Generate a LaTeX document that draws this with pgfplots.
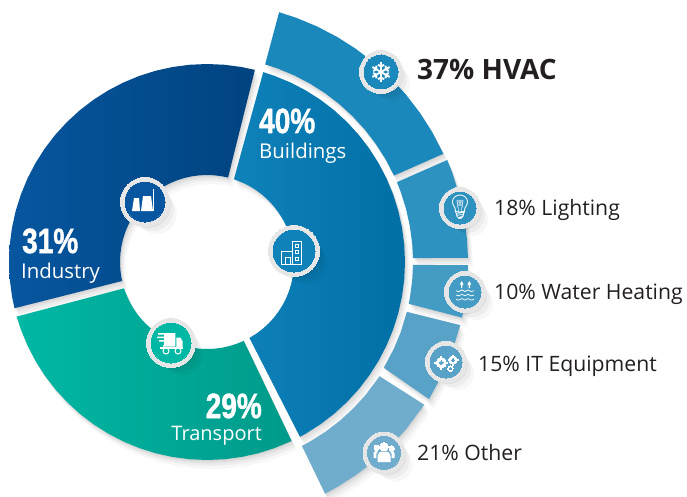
\documentclass[border=0pt]{standalone}
\usepackage{fontspec}
\usepackage{pgfplots}
\usepackage{pgfplotstable}
\pgfplotsset{compat=1.18}
\setmainfont{Open Sans}
\newfontfamily\numfont[BoldFeatures={FakeBold=1.5}]{Liberation Sans}
\newfontfamily\iconfont[FakeBold=0.6]{DejaVu Sans}
\newfontfamily\emojifont{Noto Emoji}
\definecolor{txt}{HTML}{231F20}
\definecolor{ringg}{HTML}{E6E6E6}
\definecolor{indL}{HTML}{07569F}
\definecolor{indR}{HTML}{00437F}
\definecolor{bldL}{HTML}{0F82B9}
\definecolor{bldR}{HTML}{006FA6}
\definecolor{traL}{HTML}{00B8A4}
\definecolor{traR}{HTML}{009A8A}
\definecolor{hvac}{HTML}{1B88BB}
\definecolor{ligh}{HTML}{2E92C0}
\definecolor{watr}{HTML}{449BC4}
\definecolor{itq}{HTML}{58A2C8}
\definecolor{oth}{HTML}{70ADCC}
\pgfplotstableread[row sep=\\]{a r\\76 198\\80 198\\85 198\\90 198\\95 198\\100 198\\105 198\\110 198\\115 198\\120 198\\125 198\\130 198\\135 198\\140 198\\145 198\\150 198\\155 198\\160 198\\165 198\\170 198\\175 198\\180 198\\185 198\\190 198\\193.5 198\\192.6 87\\190 87\\185 87\\180 87\\175 87\\170 87\\165 87\\160 87\\155 87\\150 87\\145 87\\140 87\\135 87\\130 87\\125 87\\120 87\\115 87\\110 87\\105 87\\100 87\\95 87\\90 87\\85 87\\80 87\\76 87\\}\tInd
\pgfplotstableread[row sep=\\]{a r\\73.5 198\\70 198\\65 198\\60 198\\55 198\\50 198\\45 198\\40 198\\35 198\\30 198\\25 198\\20 198\\15 198\\10 198\\5 198\\0 198\\-5 198\\-10 198\\-15 198\\-20 198\\-25 198\\-30 198\\-35 198\\-40 198\\-45 198\\-50 198\\-55 198\\-60 198\\-62 198\\-60.8 87\\-55 87\\-50 87\\-45 87\\-40 87\\-35 87\\-30 87\\-25 87\\-20 87\\-15 87\\-10 87\\-5 87\\0 87\\5 87\\10 87\\15 87\\20 87\\25 87\\30 87\\35 87\\40 87\\45 87\\50 87\\55 87\\60 87\\65 87\\72 87\\}\tBld
\pgfplotstableread[row sep=\\]{a r\\196 198\\200 198\\205 198\\210 198\\215 198\\220 198\\225 198\\230 198\\235 198\\240 198\\245 198\\250 198\\255 198\\260 198\\265 198\\270 198\\275 198\\280 198\\285 198\\290 198\\295.3 198\\295 87\\290 87\\285 87\\280 87\\275 87\\270 87\\265 87\\260 87\\255 87\\250 87\\245 87\\240 87\\235 87\\230 87\\225 87\\220 87\\215 87\\210 87\\205 87\\200 87\\197.6 87\\}\tTra
\pgfplotstableread[row sep=\\]{a r\\73.9 260\\70 260\\65 260\\60 260\\55 260\\50 260\\45 260\\40 260\\35 260\\30 260\\24.6 260\\24.8 206\\30 206\\35 206\\40 206\\45 206\\50 206\\55 206\\60 206\\65 206\\70 206\\73.6 206\\}\tHva
\pgfplotstableread[row sep=\\]{a r\\23 261\\20 261\\15 261\\10 261\\5 261\\0.9 261\\1.1 206\\5 206\\10 206\\15 206\\20 206\\22.8 206\\}\tLig
\pgfplotstableread[row sep=\\]{a r\\-0.7 261\\-5 261\\-10 261\\-12.3 261\\-11.7 206\\-10 206\\-5 206\\-0.8 206\\}\tWat
\pgfplotstableread[row sep=\\]{a r\\-14 261\\-20 261\\-25 261\\-31.7 261\\-30.9 206\\-25 206\\-20 206\\-14 206\\}\tITq
\pgfplotstableread[row sep=\\]{a r\\-33.3 260\\-40 260\\-45 260\\-50 260\\-55 260\\-60 260\\-63 260\\-62.7 207\\-60 207\\-55 207\\-50 207\\-45 207\\-40 207\\-33.5 207\\}\tOth
\newcommand{\wedgeplot}[2]{\addplot[draw=none,#1] table[x expr={207+\thisrow{r}*cos(\thisrow{a})},y expr={262-\thisrow{r}*sin(\thisrow{a})}]{#2};}
\newcommand{\shad}[1]{%
  \wedgeplot{fill=black,fill opacity=.05,xshift=1pt,yshift=-1.5pt}{#1}
  \wedgeplot{fill=black,fill opacity=.05,xshift=2pt,yshift=-3.5pt}{#1}
  \wedgeplot{fill=black,fill opacity=.04,xshift=3.5pt,yshift=-6pt}{#1}
  \wedgeplot{fill=black,fill opacity=.03,xshift=5pt,yshift=-9pt}{#1}}
\newcommand{\dotat}[4]{\addplot[only marks,mark=*,mark size=#3,mark options={fill=#4,draw=#4,line width=0pt}] coordinates {(#1,#2)};}
\newcommand{\shdot}[5]{\addplot[only marks,mark=*,mark size=#3,mark options={fill=black,draw=black,line width=0pt,draw opacity=0,fill opacity=#5},xshift=#4pt,yshift=-#4pt] coordinates {(#1,#2)};}
\newcommand{\badge}[4]{%
  \shdot{#1}{#2}{#3+3}{3}{.05}
  \shdot{#1}{#2}{#3+2}{7}{.04}
  \shdot{#1}{#2}{#3}{12}{.03}
  \dotat{#1}{#2}{#3+4.5}{ringg}
  \dotat{#1}{#2}{#3}{#4}}
\newcommand{\gear}[3]{%
  \addplot[only marks,mark=+,mark size=#3,mark options={draw=white,line width=#3*0.32pt}] coordinates {(#1,#2)};
  \addplot[only marks,mark=x,mark size=#3*0.71,mark options={draw=white,line width=#3*0.32pt}] coordinates {(#1,#2)};
  \dotat{#1}{#2}{#3*0.74}{white}
  \dotat{#1}{#2}{#3*0.28}{itq}}
\newcommand{\wpoly}[1]{\addplot[fill=white,draw=none] coordinates {#1};}
\newcommand{\wline}[1]{\addplot[draw=white,line width=.9pt,no marks] coordinates {#1};}
\newcommand{\wave}[1]{\addplot[draw=white,line width=.7pt,no marks,smooth] coordinates {#1};}
\newcommand{\fs}[1]{\fontsize{#1}{#1}\selectfont}
\newcommand{\bignum}[1]{\scalebox{.8}[1]{\numfont\bfseries\fs{35}#1}}
\begin{document}
\begin{tikzpicture}
\begin{axis}[scale only axis,width=687pt,height=497pt,xmin=0,xmax=687,ymin=0,ymax=497,y dir=reverse,hide axis,clip=true,clip marker paths=true]
\shad{\tInd}\shad{\tBld}\shad{\tTra}\shad{\tHva}\shad{\tLig}\shad{\tWat}\shad{\tITq}\shad{\tOth}
\wedgeplot{left color=indL,right color=indR}{\tInd}
\wedgeplot{left color=bldL,right color=bldR}{\tBld}
\wedgeplot{left color=traL,right color=traR}{\tTra}
\wedgeplot{fill=hvac}{\tHva}
\wedgeplot{fill=ligh}{\tLig}
\wedgeplot{fill=watr}{\tWat}
\wedgeplot{fill=itq}{\tITq}
\wedgeplot{fill=oth}{\tOth}
\badge{381}{72}{17}{hvac}
\badge{460}{208}{16}{ligh}
\badge{465}{292}{16}{watr}
\badge{446}{362}{16}{itq}
\badge{384}{453}{16.5}{oth}
\badge{145}{202}{20}{indL}
\badge{294}{251}{21}{bldL}
\badge{171}{343}{20}{traL}
% factory
\wpoly{(132,211)(134,198)(139,198)(140,211)}
\wpoly{(141,211)(143,196)(151,196)(153,211)}
\wpoly{(152.5,211)(152.5,189)(154,189)(154,211)}
% buildings
\wline{(292.3,264.3)(292.3,241.7)(301,241.7)(301,264.3)(281.7,264.3)(281.7,251.7)(292.3,251.7)}
\wline{(285.6,264.3)(285.6,257.5)(290,257.5)(290,264.3)}
\addplot[draw=white,line width=.7pt,no marks] coordinates {(295,244)(298.3,244)(298.3,247.3)(295,247.3)(295,244)};
\addplot[draw=white,line width=.7pt,no marks] coordinates {(295,250.5)(298.3,250.5)(298.3,253.8)(295,253.8)(295,250.5)};
\addplot[draw=white,line width=.7pt,no marks] coordinates {(295,257.5)(298.3,257.5)(298.3,260.8)(295,260.8)(295,257.5)};
% truck
\wpoly{(158,333)(175.3,333)(175.3,346.5)(163,346.5)(163,345)(164,345)(164,341.5)(159,341.5)(159,340)(164,340)(164,338)(157,338)(157,336.5)(164,336.5)(164,334.5)(158,334.5)}
\wpoly{(176.3,337.7)(180.5,337.7)(182.7,341.5)(182.7,347.5)(176.3,347.5)}
\wpoly{(160,347)(182.7,347)(182.7,349)(160,349)}
\addplot[only marks,mark=*,mark size=3,mark options={fill=traL,draw=white,line width=1pt}] coordinates {(166,351)(178,351)};
% water heating
\wpoly{(459.8,284.5)(461.7,281)(463.6,284.5)(462.4,284.5)(462.4,288)(461,288)(461,284.5)}
\wpoly{(467.4,284.5)(469.3,281)(471.2,284.5)(470,284.5)(470,288)(468.6,288)(468.6,284.5)}
\wave{(456,290.7)(459,291.5)(462,290)(465,291.5)(468,290)(471,291.5)(474,290.7)}
\wave{(456,295)(459,295.8)(462,294.3)(465,295.8)(468,294.3)(471,295.8)(474,295)}
\wave{(456,299.3)(459,300.1)(462,298.6)(465,300.1)(468,298.6)(471,300.1)(474,299.3)}
% people
\dotat{384}{446.7}{4.2}{white}
\dotat{376.7}{447.7}{2.7}{white}
\dotat{391.7}{448.3}{2.7}{white}
\wpoly{(377.5,462)(377.5,456)(379,452.5)(382,451.5)(386,451.5)(389,452.5)(390.5,456)(390.5,462)}
\wpoly{(373.5,458)(373.5,453)(375,451)(378,451)(376.3,454)(376.3,458)}
\wpoly{(394.5,458)(394.5,453)(393,451)(390,451)(391.7,454)(391.7,458)}
% gears
\gear{441.3}{362.7}{7}
\gear{453}{360}{5.5}
\gear{450.3}{368.8}{3.5}
% glyph icons
\node[text=white,inner sep=0] at (axis cs:381,72) {\iconfont\fs{27}❄};
\node[text=white,inner sep=0] at (axis cs:460,207) {\emojifont\fs{24}💡};
% labels
\node[anchor=base west,inner sep=0,text=white] at (axis cs:259,133) {\bignum{40\%}};
\node[anchor=base west,inner sep=0,text=white] at (axis cs:259,159) {\fs{20.4}Buildings};
\node[anchor=base west,inner sep=0,text=white] at (axis cs:22,253) {\bignum{31\%}};
\node[anchor=base west,inner sep=0,text=white] at (axis cs:21,278) {\fs{20.4}Industry};
\node[anchor=base east,inner sep=0,text=white] at (axis cs:262,418) {\bignum{29\%}};
\node[anchor=base east,inner sep=0,text=white] at (axis cs:262,440) {\fs{20}Transport};
\node[anchor=base west,inner sep=0,text=txt] at (axis cs:417,80) {\fs{28}\textbf{37\% HVAC}};
\node[anchor=base west,inner sep=0,text=txt] at (axis cs:494,215) {\fs{21.2}18\% Lighting};
\node[anchor=base west,inner sep=0,text=txt] at (axis cs:494,299) {\fs{21.2}10\% Water Heating};
\node[anchor=base west,inner sep=0,text=txt] at (axis cs:478,371) {\fs{21.2}15\% IT Equipment};
\node[anchor=base west,inner sep=0,text=txt] at (axis cs:417,460) {\fs{21.2}21\% Other};
\end{axis}
\pgfresetboundingbox
\path (current axis.south west) rectangle (current axis.north east);
\end{tikzpicture}
\end{document}
